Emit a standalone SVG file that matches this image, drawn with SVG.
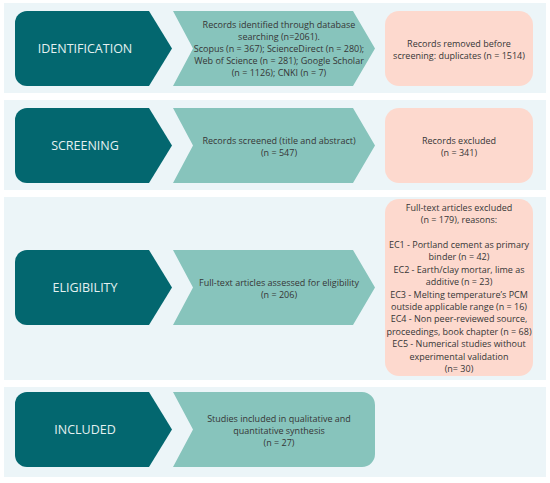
<svg xmlns="http://www.w3.org/2000/svg" width="550" height="483" viewBox="0 0 550 483">
<style>
.panel{fill:#ecf5f8}
.stage{fill:#03676f}
.step{fill:#87c4bc}
.out{fill:#fdd9ce}
text{font-family:"Open Sans","Liberation Sans",sans-serif;text-anchor:middle}
.lbl{font-size:12.5px;fill:#e4f1f1}
.t{font-size:9px;fill:#363636}
</style>
<rect width="550" height="483" fill="#ffffff"/>
<g id="panels">
<rect class="panel" x="4" y="3" width="542" height="90"/>
<rect class="panel" x="4" y="100" width="542" height="90"/>
<rect class="panel" x="4" y="197" width="542" height="183"/>
<rect class="panel" x="4" y="387" width="542" height="90"/>
</g>
<g id="connectors"></g>

<g id="identification">
<path class="stage" d="M27,11 H149 L172,48.5 L149,86 H27 A12,12 0 0 1 15,74 V23 A12,12 0 0 1 27,11 Z"/>
<text class="lbl" x="85" y="53">IDENTIFICATION</text>
</g>
<g id="records-identified">
<path class="step" d="M173,11 H353 L375,48.5 L353,86 H173 L193,48.5 Z"/>
<text class="t" x="279" y="27.7">Records identified through database</text>
<text class="t" x="279" y="39.7">searching (n=2061).</text>
<text class="t" x="279" y="51.7">Scopus (n = 367); ScienceDirect (n = 280);</text>
<text class="t" x="279" y="63.7">Web of Science (n = 281); Google Scholar</text>
<text class="t" x="279" y="75.7">(n = 1126); CNKI (n = 7)</text>
</g>
<g id="duplicates-removed">
<rect class="out" x="385" y="11" width="148" height="75" rx="14"/>
<text class="t" x="459" y="46.5">Records removed before</text>
<text class="t" x="459" y="58.5">screening: duplicates (n = 1514)</text>
</g>

<g id="screening">
<path class="stage" d="M27,108 H149 L172,145.5 L149,183 H27 A12,12 0 0 1 15,171 V120 A12,12 0 0 1 27,108 Z"/>
<text class="lbl" x="85" y="150">SCREENING</text>
</g>
<g id="records-screened">
<path class="step" d="M173,108 H353 L375,145.5 L353,183 H173 L193,145.5 Z"/>
<text class="t" x="279" y="143.5">Records screened (title and abstract)</text>
<text class="t" x="279" y="155.5">(n = 547)</text>
</g>
<g id="records-excluded">
<rect class="out" x="385" y="108" width="148" height="75" rx="14"/>
<text class="t" x="459" y="143.5">Records excluded</text>
<text class="t" x="459" y="155.5">(n = 341)</text>
</g>

<g id="eligibility">
<path class="stage" d="M27,250 H149 L172,287.5 L149,325 H27 A12,12 0 0 1 15,313 V262 A12,12 0 0 1 27,250 Z"/>
<text class="lbl" x="85" y="292">ELIGIBILITY</text>
</g>
<g id="full-text-assessed">
<path class="step" d="M173,250 H353 L375,287.5 L353,325 H173 L193,287.5 Z"/>
<text class="t" x="279" y="285.5">Full-text articles assessed for eligibility</text>
<text class="t" x="279" y="297.5">(n = 206)</text>
</g>
<g id="full-text-excluded">
<rect class="out" x="385" y="199" width="148" height="177" rx="14"/>
<text class="t" x="459" y="210.7">Full-text articles excluded</text>
<text class="t" x="459" y="223.1">(n = 179), reasons:</text>
<text class="t" x="459" y="248">EC1 - Portland cement as primary</text>
<text class="t" x="459" y="260.4">binder (n = 42)</text>
<text class="t" x="459" y="272.8">EC2 - Earth/clay mortar, lime as</text>
<text class="t" x="459" y="285.2">additive (n = 23)</text>
<text class="t" x="459" y="297.6">EC3 - Melting temperature’s PCM</text>
<text class="t" x="459" y="310">outside applicable range (n = 16)</text>
<text class="t" x="459" y="322.4">EC4 - Non peer-reviewed source,</text>
<text class="t" x="459" y="334.8">proceedings, book chapter (n = 68)</text>
<text class="t" x="459" y="347.2">EC5 - Numerical studies without</text>
<text class="t" x="459" y="359.6">experimental validation</text>
<text class="t" x="459" y="372">(n= 30)</text>
</g>

<g id="included">
<path class="stage" d="M27,392 H149 L172,429.5 L149,467 H27 A12,12 0 0 1 15,455 V404 A12,12 0 0 1 27,392 Z"/>
<text class="lbl" x="85" y="434">INCLUDED</text>
</g>
<g id="studies-included">
<path class="step" d="M173,392 H362 A13,13 0 0 1 375,405 V454 A13,13 0 0 1 362,467 H173 L193,429.5 Z"/>
<text class="t" x="279" y="421.5">Studies included in qualitative and</text>
<text class="t" x="279" y="433.5">quantitative synthesis</text>
<text class="t" x="279" y="446">(n = 27)</text>
</g>
</svg>
